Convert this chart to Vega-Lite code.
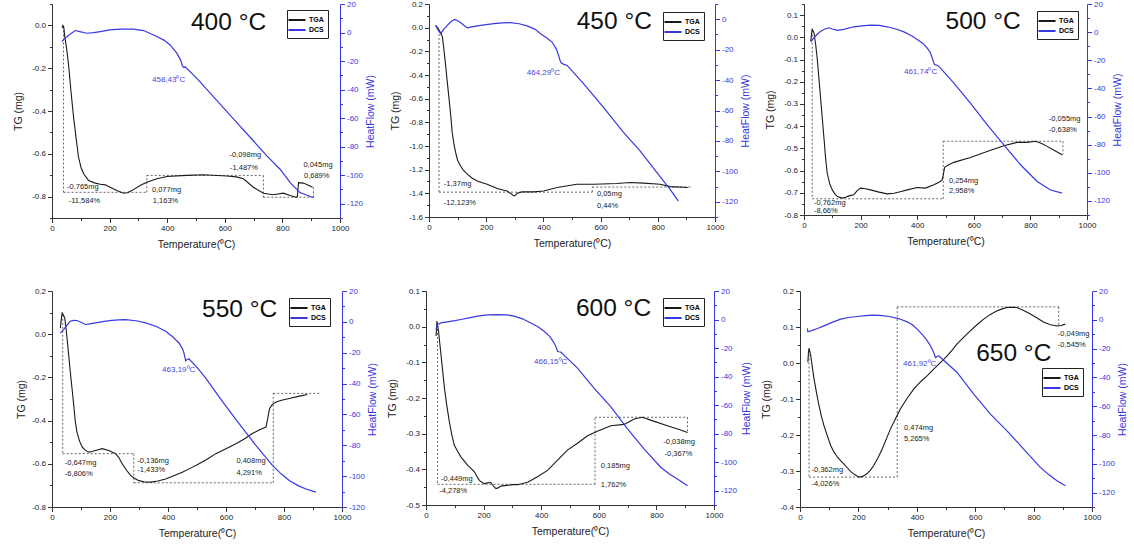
{
"$schema": "https://vega.github.io/schema/vega-lite/v6.json",
"background": "white",
"padding": {"left": 13, "top": 0, "right": 0, "bottom": 0},
"config": {
  "view": {"stroke": null},
  "font": "Liberation Sans",
  "axis": {"labelFont": "Liberation Sans", "titleFont": "Liberation Sans", "labelFontSize": 8, "titleFontSize": 10.5, "titleFontWeight": "normal", "grid": false, "domainColor": "#333", "tickColor": "#333", "labelColor": "#222", "titleColor": "#222", "labelFlush": false, "labelOverlap": false, "labelPadding": 2},
  "legend": {"title": null, "orient": "none", "symbolType": "M-1.8,0H1.8", "symbolSize": 90, "symbolStrokeWidth": 2, "labelFontSize": 7, "labelFontWeight": "bold", "labelFont": "Liberation Sans", "strokeColor": "#222", "fillColor": "#fff", "padding": 4, "rowPadding": 0, "labelOffset": 6},
  "text": {"font": "Liberation Sans"}
},
"datasets": {
"g1": [{"t":35,"v":-0.012},{"t":38,"v":0.0},{"t":41,"v":-0.008},{"t":44,"v":-0.05},{"t":50,"v":-0.1},{"t":58,"v":-0.19},{"t":66,"v":-0.31},{"t":75,"v":-0.43},{"t":84,"v":-0.53},{"t":92,"v":-0.615},{"t":101,"v":-0.665},{"t":110,"v":-0.693},{"t":127,"v":-0.725},{"t":150,"v":-0.737},{"t":168,"v":-0.742},{"t":185,"v":-0.745},{"t":202,"v":-0.756},{"t":225,"v":-0.772},{"t":249,"v":-0.784},{"t":262,"v":-0.782},{"t":277,"v":-0.772},{"t":306,"v":-0.748},{"t":329,"v":-0.733},{"t":364,"v":-0.717},{"t":399,"v":-0.706},{"t":468,"v":-0.701},{"t":526,"v":-0.698},{"t":607,"v":-0.704},{"t":640,"v":-0.708},{"t":665,"v":-0.717},{"t":699,"v":-0.756},{"t":734,"v":-0.784},{"t":769,"v":-0.791},{"t":803,"v":-0.784},{"t":827,"v":-0.795},{"t":847,"v":-0.803},{"t":852,"v":-0.8},{"t":856,"v":-0.735},{"t":873,"v":-0.737},{"t":905,"v":-0.756}],
"d1": [{"t":35,"v":-6.4},{"t":40,"v":-5},{"t":60,"v":-1.5},{"t":81,"v":1.4},{"t":100,"v":0.5},{"t":121,"v":-0.5},{"t":145,"v":0},{"t":168,"v":0.7},{"t":200,"v":1.8},{"t":237,"v":2.4},{"t":283,"v":2.4},{"t":318,"v":1.4},{"t":364,"v":-2.8},{"t":390,"v":-5.5},{"t":410,"v":-8.7},{"t":434,"v":-14.6},{"t":447,"v":-19.5},{"t":453,"v":-23.5},{"t":458,"v":-24.5},{"t":462,"v":-24},{"t":490,"v":-29.5},{"t":514,"v":-34.6},{"t":572,"v":-47.5},{"t":630,"v":-60.5},{"t":688,"v":-73.4},{"t":746,"v":-86.4},{"t":792,"v":-95.8},{"t":827,"v":-105.2},{"t":861,"v":-112.2},{"t":908,"v":-115.8}],
"r1": [{"t":40,"t2":40,"v":-0.005,"v2":-0.78},{"t":40,"t2":329,"v":-0.78,"v2":-0.78},{"t":329,"t2":329,"v":-0.78,"v2":-0.701},{"t":329,"t2":734,"v":-0.701,"v2":-0.701},{"t":734,"t2":734,"v":-0.701,"v2":-0.803},{"t":734,"t2":908,"v":-0.803,"v2":-0.803},{"t":908,"t2":908,"v":-0.803,"v2":-0.757}],
"a1": [{"t":52,"v":-0.756,"s":"-0,765mg"},{"t":58,"v":-0.819,"s":"-11,584%"},{"t":347,"v":-0.769,"s":"0,077mg"},{"t":350,"v":-0.822,"s":"1,163%"},{"t":616,"v":-0.607,"s":"-0,098mg"},{"t":618,"v":-0.665,"s":"-1,487%"},{"t":873,"v":-0.651,"s":"0,045mg"},{"t":875,"v":-0.704,"s":"0,689%"}],
"g2": [{"t":23,"v":0.017},{"t":30,"v":0.0},{"t":35,"v":-0.02},{"t":42,"v":-0.05},{"t":47,"v":-0.08},{"t":52,"v":-0.18},{"t":58,"v":-0.317},{"t":64,"v":-0.46},{"t":70,"v":-0.6},{"t":76,"v":-0.74},{"t":81,"v":-0.884},{"t":87,"v":-0.98},{"t":93,"v":-1.054},{"t":100,"v":-1.12},{"t":110,"v":-1.167},{"t":120,"v":-1.205},{"t":134,"v":-1.238},{"t":150,"v":-1.27},{"t":169,"v":-1.295},{"t":186,"v":-1.31},{"t":203,"v":-1.323},{"t":220,"v":-1.34},{"t":238,"v":-1.36},{"t":255,"v":-1.37},{"t":273,"v":-1.38},{"t":288,"v":-1.405},{"t":297,"v":-1.422},{"t":303,"v":-1.415},{"t":308,"v":-1.4},{"t":326,"v":-1.388},{"t":366,"v":-1.388},{"t":401,"v":-1.38},{"t":448,"v":-1.351},{"t":517,"v":-1.323},{"t":576,"v":-1.323},{"t":657,"v":-1.317},{"t":703,"v":-1.309},{"t":750,"v":-1.314},{"t":808,"v":-1.323},{"t":843,"v":-1.343},{"t":905,"v":-1.351}],
"d2": [{"t":23,"v":-4},{"t":30,"v":-6.5},{"t":41,"v":-9.5},{"t":52,"v":-6.5},{"t":64,"v":-4},{"t":77,"v":-1.5},{"t":90,"v":-0.2},{"t":100,"v":-1},{"t":110,"v":-2.2},{"t":122,"v":-4},{"t":134,"v":-5.7},{"t":150,"v":-5},{"t":169,"v":-4.4},{"t":200,"v":-3.5},{"t":227,"v":-2.9},{"t":256,"v":-2.4},{"t":285,"v":-2.2},{"t":315,"v":-3},{"t":343,"v":-4.4},{"t":370,"v":-6.5},{"t":390,"v":-9.5},{"t":412,"v":-12.3},{"t":430,"v":-15},{"t":445,"v":-19.5},{"t":453,"v":-23.8},{"t":458,"v":-27},{"t":462,"v":-28.6},{"t":470,"v":-29.5},{"t":483,"v":-30.4},{"t":541,"v":-42.5},{"t":610,"v":-57.9},{"t":680,"v":-74.4},{"t":738,"v":-86.6},{"t":797,"v":-100.9},{"t":843,"v":-111.9},{"t":872,"v":-119.6}],
"r2": [{"t":35,"t2":35,"v":-0.02,"v2":-1.39},{"t":35,"t2":571,"v":-1.39,"v2":-1.39},{"t":571,"t2":571,"v":-1.39,"v2":-1.347},{"t":571,"t2":921,"v":-1.347,"v2":-1.347}],
"a2": [{"t":52,"v":-1.323,"s":"-1,37mg"},{"t":52,"v":-1.479,"s":"-12,123%"},{"t":587,"v":-1.408,"s":"0,05mg"},{"t":587,"v":-1.507,"s":"0,44%"}],
"g3": [{"t":24,"v":-0.017},{"t":27,"v":0.02},{"t":29,"v":0.036},{"t":32,"v":0.03},{"t":35,"v":0.021},{"t":41,"v":-0.03},{"t":47,"v":-0.099},{"t":53,"v":-0.19},{"t":59,"v":-0.28},{"t":65,"v":-0.37},{"t":71,"v":-0.46},{"t":76,"v":-0.54},{"t":82,"v":-0.611},{"t":91,"v":-0.66},{"t":100,"v":-0.687},{"t":109,"v":-0.705},{"t":118,"v":-0.717},{"t":135,"v":-0.724},{"t":147,"v":-0.72},{"t":159,"v":-0.714},{"t":176,"v":-0.709},{"t":188,"v":-0.69},{"t":200,"v":-0.679},{"t":217,"v":-0.682},{"t":235,"v":-0.687},{"t":265,"v":-0.697},{"t":294,"v":-0.705},{"t":318,"v":-0.702},{"t":340,"v":-0.695},{"t":365,"v":-0.687},{"t":400,"v":-0.676},{"t":429,"v":-0.679},{"t":459,"v":-0.664},{"t":480,"v":-0.65},{"t":488,"v":-0.642},{"t":492,"v":-0.62},{"t":497,"v":-0.585},{"t":510,"v":-0.575},{"t":529,"v":-0.563},{"t":588,"v":-0.541},{"t":647,"v":-0.514},{"t":706,"v":-0.488},{"t":753,"v":-0.473},{"t":788,"v":-0.473},{"t":818,"v":-0.468},{"t":840,"v":-0.478},{"t":859,"v":-0.491},{"t":885,"v":-0.51},{"t":912,"v":-0.529}],
"d3": [{"t":24,"v":-6.9},{"t":35,"v":-4},{"t":47,"v":-1.5},{"t":59,"v":0.7},{"t":74,"v":2.2},{"t":88,"v":3.1},{"t":100,"v":2.2},{"t":118,"v":1.2},{"t":140,"v":2},{"t":176,"v":3.8},{"t":205,"v":4.5},{"t":235,"v":5},{"t":265,"v":4.8},{"t":294,"v":3.8},{"t":325,"v":2.2},{"t":353,"v":0.2},{"t":380,"v":-2.5},{"t":400,"v":-5.2},{"t":420,"v":-8},{"t":435,"v":-11.2},{"t":446,"v":-14.5},{"t":453,"v":-18.3},{"t":458,"v":-21.5},{"t":461,"v":-23},{"t":468,"v":-23.4},{"t":476,"v":-24.2},{"t":529,"v":-36.1},{"t":588,"v":-50.4},{"t":647,"v":-65.8},{"t":706,"v":-80.1},{"t":765,"v":-94.3},{"t":824,"v":-106.2},{"t":871,"v":-112.2},{"t":912,"v":-114.5}],
"r3": [{"t":29,"t2":29,"v":0.03,"v2":-0.727},{"t":29,"t2":492,"v":-0.727,"v2":-0.727},{"t":492,"t2":492,"v":-0.727,"v2":-0.468},{"t":492,"t2":915,"v":-0.468,"v2":-0.468},{"t":915,"t2":915,"v":-0.468,"v2":-0.529}],
"a3": [{"t":35,"v":-0.744,"s":"-0,762mg"},{"t":35,"v":-0.78,"s":"-8,66%"},{"t":512,"v":-0.649,"s":"0,254mg"},{"t":512,"v":-0.694,"s":"2,958%"},{"t":865,"v":-0.367,"s":"-0,055mg"},{"t":865,"v":-0.419,"s":"-0,638%"}],
"g4": [{"t":29,"v":0.028},{"t":32,"v":0.07},{"t":35,"v":0.098},{"t":39,"v":0.09},{"t":44,"v":0.074},{"t":48,"v":0.03},{"t":52,"v":-0.019},{"t":57,"v":-0.09},{"t":63,"v":-0.174},{"t":69,"v":-0.25},{"t":75,"v":-0.329},{"t":80,"v":-0.4},{"t":86,"v":-0.453},{"t":95,"v":-0.495},{"t":104,"v":-0.522},{"t":115,"v":-0.538},{"t":127,"v":-0.546},{"t":138,"v":-0.543},{"t":150,"v":-0.538},{"t":173,"v":-0.53},{"t":196,"v":-0.538},{"t":219,"v":-0.553},{"t":230,"v":-0.57},{"t":242,"v":-0.6},{"t":257,"v":-0.63},{"t":271,"v":-0.654},{"t":285,"v":-0.668},{"t":300,"v":-0.678},{"t":320,"v":-0.684},{"t":340,"v":-0.685},{"t":365,"v":-0.68},{"t":392,"v":-0.67},{"t":420,"v":-0.655},{"t":449,"v":-0.639},{"t":478,"v":-0.62},{"t":507,"v":-0.6},{"t":536,"v":-0.578},{"t":565,"v":-0.553},{"t":600,"v":-0.53},{"t":634,"v":-0.507},{"t":663,"v":-0.485},{"t":691,"v":-0.46},{"t":720,"v":-0.44},{"t":738,"v":-0.43},{"t":744,"v":-0.39},{"t":750,"v":-0.345},{"t":760,"v":-0.325},{"t":775,"v":-0.313},{"t":795,"v":-0.305},{"t":818,"v":-0.298},{"t":850,"v":-0.288},{"t":881,"v":-0.279}],
"d4": [{"t":29,"v":-7.2},{"t":35,"v":-6},{"t":40,"v":-5},{"t":50,"v":-2.5},{"t":63,"v":0.4},{"t":75,"v":1},{"t":86,"v":0.9},{"t":100,"v":-0.3},{"t":115,"v":-1.7},{"t":130,"v":-1.3},{"t":150,"v":-0.7},{"t":180,"v":0.3},{"t":207,"v":0.9},{"t":230,"v":1.3},{"t":253,"v":1.5},{"t":290,"v":0.7},{"t":323,"v":-0.7},{"t":360,"v":-3},{"t":392,"v":-6.1},{"t":415,"v":-9.5},{"t":438,"v":-13.7},{"t":450,"v":-17.5},{"t":455,"v":-20.2},{"t":459,"v":-23.5},{"t":461,"v":-25.2},{"t":465,"v":-24.5},{"t":472,"v":-23.9},{"t":500,"v":-29.5},{"t":530,"v":-36.5},{"t":588,"v":-51.7},{"t":645,"v":-65.9},{"t":703,"v":-80},{"t":760,"v":-93},{"t":790,"v":-98.5},{"t":818,"v":-102.8},{"t":850,"v":-106.3},{"t":876,"v":-108.3},{"t":910,"v":-110.4}],
"r4": [{"t":37,"t2":37,"v":0.09,"v2":-0.553},{"t":37,"t2":282,"v":-0.553,"v2":-0.553},{"t":282,"t2":282,"v":-0.553,"v2":-0.688},{"t":282,"t2":763,"v":-0.688,"v2":-0.688},{"t":763,"t2":763,"v":-0.688,"v2":-0.274},{"t":763,"t2":927,"v":-0.274,"v2":-0.274}],
"a4": [{"t":44,"v":-0.595,"s":"-0,647mg"},{"t":44,"v":-0.647,"s":"-6,806%"},{"t":294,"v":-0.589,"s":"-0,136mg"},{"t":294,"v":-0.631,"s":"-1,433%"},{"t":636,"v":-0.589,"s":"0,408mg"},{"t":636,"v":-0.642,"s":"4,291%"}],
"g5": [{"t":35,"v":-0.026},{"t":37,"v":0.0},{"t":38,"v":0.016},{"t":40,"v":0.005},{"t":43,"v":-0.008},{"t":47,"v":-0.04},{"t":52,"v":-0.078},{"t":58,"v":-0.125},{"t":64,"v":-0.172},{"t":72,"v":-0.22},{"t":81,"v":-0.266},{"t":90,"v":-0.305},{"t":98,"v":-0.332},{"t":110,"v":-0.35},{"t":121,"v":-0.365},{"t":133,"v":-0.377},{"t":145,"v":-0.389},{"t":157,"v":-0.398},{"t":168,"v":-0.407},{"t":177,"v":-0.42},{"t":185,"v":-0.431},{"t":202,"v":-0.44},{"t":214,"v":-0.438},{"t":225,"v":-0.437},{"t":235,"v":-0.448},{"t":243,"v":-0.454},{"t":250,"v":-0.452},{"t":260,"v":-0.447},{"t":280,"v":-0.445},{"t":301,"v":-0.443},{"t":318,"v":-0.443},{"t":353,"v":-0.436},{"t":387,"v":-0.421},{"t":422,"v":-0.403},{"t":457,"v":-0.374},{"t":491,"v":-0.346},{"t":526,"v":-0.327},{"t":561,"v":-0.306},{"t":595,"v":-0.293},{"t":642,"v":-0.278},{"t":688,"v":-0.274},{"t":723,"v":-0.259},{"t":751,"v":-0.254},{"t":780,"v":-0.262},{"t":838,"v":-0.278},{"t":884,"v":-0.29},{"t":908,"v":-0.297}],
"d5": [{"t":35,"v":-7.1},{"t":37,"v":-5},{"t":40,"v":-3.5},{"t":55,"v":-2.2},{"t":75,"v":-1.6},{"t":100,"v":-0.8},{"t":121,"v":0},{"t":150,"v":1.2},{"t":179,"v":2.4},{"t":215,"v":3.2},{"t":249,"v":3.5},{"t":280,"v":3.2},{"t":306,"v":2.4},{"t":335,"v":0.5},{"t":364,"v":-2.4},{"t":390,"v":-5.2},{"t":410,"v":-8.2},{"t":430,"v":-12},{"t":445,"v":-16.5},{"t":452,"v":-19.5},{"t":457,"v":-22.4},{"t":462,"v":-22.6},{"t":468,"v":-22.8},{"t":526,"v":-34.1},{"t":584,"v":-48.2},{"t":642,"v":-61.2},{"t":699,"v":-76.5},{"t":757,"v":-90.6},{"t":815,"v":-103.5},{"t":845,"v":-108.3},{"t":873,"v":-111.8},{"t":908,"v":-116.5}],
"r5": [{"t":40,"t2":40,"v":0.005,"v2":-0.442},{"t":40,"t2":587,"v":-0.442,"v2":-0.442},{"t":587,"t2":587,"v":-0.442,"v2":-0.254},{"t":587,"t2":908,"v":-0.254,"v2":-0.254},{"t":908,"t2":908,"v":-0.254,"v2":-0.297}],
"a5": [{"t":52,"v":-0.428,"s":"-0,449mg"},{"t":46,"v":-0.462,"s":"-4,278%"},{"t":607,"v":-0.39,"s":"0,185mg"},{"t":607,"v":-0.444,"s":"1,762%"},{"t":824,"v":-0.323,"s":"-0,038mg"},{"t":828,"v":-0.356,"s":"-0,367%"}],
"g6": [{"t":27,"v":0.002},{"t":29,"v":0.03},{"t":31,"v":0.041},{"t":33,"v":0.035},{"t":36,"v":0.025},{"t":42,"v":-0.01},{"t":48,"v":-0.044},{"t":56,"v":-0.08},{"t":65,"v":-0.118},{"t":73,"v":-0.147},{"t":82,"v":-0.174},{"t":94,"v":-0.203},{"t":105,"v":-0.229},{"t":116,"v":-0.247},{"t":128,"v":-0.261},{"t":139,"v":-0.271},{"t":150,"v":-0.28},{"t":162,"v":-0.291},{"t":173,"v":-0.301},{"t":187,"v":-0.31},{"t":202,"v":-0.317},{"t":215,"v":-0.315},{"t":230,"v":-0.307},{"t":242,"v":-0.297},{"t":253,"v":-0.284},{"t":268,"v":-0.262},{"t":282,"v":-0.238},{"t":296,"v":-0.21},{"t":310,"v":-0.183},{"t":327,"v":-0.155},{"t":344,"v":-0.127},{"t":367,"v":-0.098},{"t":390,"v":-0.072},{"t":413,"v":-0.052},{"t":436,"v":-0.035},{"t":453,"v":-0.021},{"t":470,"v":-0.007},{"t":487,"v":0.006},{"t":504,"v":0.02},{"t":521,"v":0.036},{"t":538,"v":0.053},{"t":561,"v":0.072},{"t":584,"v":0.09},{"t":607,"v":0.107},{"t":629,"v":0.122},{"t":652,"v":0.135},{"t":675,"v":0.145},{"t":695,"v":0.151},{"t":709,"v":0.154},{"t":726,"v":0.155},{"t":743,"v":0.154},{"t":766,"v":0.146},{"t":789,"v":0.136},{"t":812,"v":0.125},{"t":835,"v":0.113},{"t":858,"v":0.106},{"t":880,"v":0.103},{"t":895,"v":0.104},{"t":909,"v":0.108}],
"d6": [{"t":25,"v":-6},{"t":27,"v":-8.3},{"t":40,"v":-7.5},{"t":60,"v":-6},{"t":82,"v":-4.2},{"t":110,"v":-1.8},{"t":139,"v":0.5},{"t":167,"v":1.6},{"t":196,"v":2.3},{"t":225,"v":2.9},{"t":253,"v":3.2},{"t":282,"v":2.9},{"t":310,"v":2.1},{"t":340,"v":0.7},{"t":367,"v":-1.4},{"t":385,"v":-3.5},{"t":401,"v":-6.5},{"t":420,"v":-10.5},{"t":436,"v":-14.6},{"t":448,"v":-18.5},{"t":458,"v":-22.7},{"t":464,"v":-26.2},{"t":470,"v":-25.5},{"t":475,"v":-25},{"t":538,"v":-36.6},{"t":595,"v":-51.6},{"t":652,"v":-65.5},{"t":709,"v":-77.1},{"t":766,"v":-89.8},{"t":823,"v":-102.5},{"t":852,"v":-107.5},{"t":880,"v":-111.8},{"t":909,"v":-115.3}],
"r6": [{"t":31,"t2":31,"v":0.035,"v2":-0.317},{"t":31,"t2":333,"v":-0.317,"v2":-0.317},{"t":333,"t2":333,"v":-0.317,"v2":0.156},{"t":333,"t2":886,"v":0.156,"v2":0.156},{"t":886,"t2":886,"v":0.156,"v2":0.103}],
"a6": [{"t":39,"v":-0.298,"s":"-0,362mg"},{"t":39,"v":-0.335,"s":"-4,026%"},{"t":356,"v":-0.18,"s":"0,474mg"},{"t":356,"v":-0.211,"s":"5,265%"},{"t":883,"v":0.08,"s":"-0,049mg"},{"t":883,"v":0.05,"s":"-0,545%"}]
},
"spacing": 37,
"align": "none",
"resolve": {"scale": {"color": "independent"}, "legend": {"color": "independent"}},
"vconcat": [
{"spacing": 13, "resolve": {"scale": {"color": "independent"}, "legend": {"color": "independent"}},
 "hconcat": [
 {"width": 288, "height": 214,
  "encoding": {"x": {"field": "t", "type": "quantitative", "scale": {"domain": [0, 1000], "nice": false, "zero": false}, "axis": {"title": "Temperature(⁰C)", "titlePadding": 7, "values": [0,100,200,300,400,500,600,700,800,900,1000], "labelExpr": "datum.value % 200 == 0 ? format(datum.value, 'd') : ''", "tickSize": {"condition": {"test": "datum.value % 200 != 0", "value": 2.5}, "value": 4.5}}}},
  "resolve": {"scale": {"y": "independent"}},
  "layer": [
   {"encoding": {"y": {"field": "v", "type": "quantitative", "scale": {"domain": [-0.9, 0.1], "nice": false, "zero": false}, "axis": {"title": "TG (mg)", "titlePadding": 8, "values": [-0.9,-0.8,-0.7,-0.6,-0.5,-0.4,-0.3,-0.2,-0.1,0,0.1], "labelExpr": "abs(round(datum.value*10)) % 2 == 1 ? '' : replace(format(datum.value, '.1f'), '\u2212', '-')", "tickSize": {"condition": {"test": "abs(round(datum.value*10)) % 2 == 1", "value": 2.5}, "value": 4.5}}}},
    "layer": [
     {"data": {"name": "r1"}, "mark": {"type": "rule", "strokeDash": [2, 2], "color": "#555", "strokeWidth": 0.9}, "encoding": {"x2": {"field": "t2"}, "y2": {"field": "v2"}}},
     {"data": {"name": "g1"}, "mark": {"type": "line", "strokeWidth": 1.1}, "encoding": {"color": {"datum": "TGA", "scale": {"domain": ["TGA", "DCS"], "range": ["#1a1a1a", "#3838e0"]}, "legend": {"legendX": 235, "legendY": 6}}}},
     {"data": {"name": "a1"}, "mark": {"type": "text", "align": "left", "baseline": "middle", "fontSize": 7.5, "color": "#222"}, "encoding": {"text": {"field": "s"}}},
     {"data": {"values": [{"t": 613, "v": 0.013, "s": "400 °C"}]}, "mark": {"type": "text", "align": "center", "baseline": "middle", "fontSize": 24.5, "color": "#111"}, "encoding": {"text": {"field": "s"}}}
    ]},
   {"encoding": {"y": {"field": "v", "type": "quantitative", "scale": {"domain": [-130, 20], "nice": false, "zero": false}, "axis": {"orient": "right", "title": "HeatFlow (mW)", "titleAngle": 270, "titleBaseline": "top", "titlePadding": 3, "values": [-130,-120,-110,-100,-90,-80,-70,-60,-50,-40,-30,-20,-10,0,10,20], "labelExpr": "datum.value % 20 != 0 ? '' : replace(datum.label, '\u2212', '-')", "tickSize": {"condition": {"test": "datum.value % 20 != 0", "value": 2.5}, "value": 4.5}, "domainColor": "#3838e0", "tickColor": "#3838e0", "labelColor": "#3838e0", "titleColor": "#3838e0"}}},
    "layer": [
     {"data": {"name": "d1"}, "mark": {"type": "line", "strokeWidth": 1.2}, "encoding": {"color": {"datum": "DCS"}}},
     {"data": {"values": [{"t": 405, "v": -33.4, "s": "458,43⁰C"}]}, "mark": {"type": "text", "align": "center", "baseline": "middle", "fontSize": 8, "color": "#4646dc"}, "encoding": {"text": {"field": "s"}}}
    ]}
  ]},
 {"width": 286, "height": 213,
  "encoding": {"x": {"field": "t", "type": "quantitative", "scale": {"domain": [0, 1000], "nice": false, "zero": false}, "axis": {"title": "Temperature(⁰C)", "titlePadding": 7, "values": [0,100,200,300,400,500,600,700,800,900,1000], "labelExpr": "datum.value % 200 == 0 ? format(datum.value, 'd') : ''", "tickSize": {"condition": {"test": "datum.value % 200 != 0", "value": 2.5}, "value": 4.5}}}},
  "resolve": {"scale": {"y": "independent"}},
  "layer": [
   {"encoding": {"y": {"field": "v", "type": "quantitative", "scale": {"domain": [-1.6, 0.2], "nice": false, "zero": false}, "axis": {"title": "TG (mg)", "titlePadding": 8, "values": [-1.6,-1.5,-1.4,-1.3,-1.2,-1.1,-1.0,-0.9,-0.8,-0.7,-0.6,-0.5,-0.4,-0.3,-0.2,-0.1,0,0.1,0.2], "labelExpr": "abs(round(datum.value*10)) % 2 == 1 ? '' : replace(format(datum.value, '.1f'), '\u2212', '-')", "tickSize": {"condition": {"test": "abs(round(datum.value*10)) % 2 == 1", "value": 2.5}, "value": 4.5}}}},
    "layer": [
     {"data": {"name": "r2"}, "mark": {"type": "rule", "strokeDash": [2, 2], "color": "#555", "strokeWidth": 0.9}, "encoding": {"x2": {"field": "t2"}, "y2": {"field": "v2"}}},
     {"data": {"name": "g2"}, "mark": {"type": "line", "strokeWidth": 1.1}, "encoding": {"color": {"datum": "TGA", "scale": {"domain": ["TGA", "DCS"], "range": ["#1a1a1a", "#3838e0"]}, "legend": {"legendX": 234, "legendY": 8}}}},
     {"data": {"name": "a2"}, "mark": {"type": "text", "align": "left", "baseline": "middle", "fontSize": 7.5, "color": "#222"}, "encoding": {"text": {"field": "s"}}},
     {"data": {"values": [{"t": 648, "v": 0.045, "s": "450 °C"}]}, "mark": {"type": "text", "align": "center", "baseline": "middle", "fontSize": 24.5, "color": "#111"}, "encoding": {"text": {"field": "s"}}}
    ]},
   {"encoding": {"y": {"field": "v", "type": "quantitative", "scale": {"domain": [-130, 10], "nice": false, "zero": false}, "axis": {"orient": "right", "title": "HeatFlow (mW)", "titleAngle": 270, "titleBaseline": "top", "titlePadding": 3, "values": [-130,-120,-110,-100,-90,-80,-70,-60,-50,-40,-30,-20,-10,0,10], "labelExpr": "datum.value % 20 != 0 ? '' : replace(datum.label, '\u2212', '-')", "tickSize": {"condition": {"test": "datum.value % 20 != 0", "value": 2.5}, "value": 4.5}, "domainColor": "#3838e0", "tickColor": "#3838e0", "labelColor": "#3838e0", "titleColor": "#3838e0"}}},
    "layer": [
     {"data": {"name": "d2"}, "mark": {"type": "line", "strokeWidth": 1.2}, "encoding": {"color": {"datum": "DCS"}}},
     {"data": {"values": [{"t": 400, "v": -35.2, "s": "464,29⁰C"}]}, "mark": {"type": "text", "align": "center", "baseline": "middle", "fontSize": 8, "color": "#4646dc"}, "encoding": {"text": {"field": "s"}}}
    ]}
  ]},
 {"width": 283, "height": 211,
  "encoding": {"x": {"field": "t", "type": "quantitative", "scale": {"domain": [0, 1000], "nice": false, "zero": false}, "axis": {"title": "Temperature(⁰C)", "titlePadding": 7, "values": [0,100,200,300,400,500,600,700,800,900,1000], "labelExpr": "datum.value % 200 == 0 ? format(datum.value, 'd') : ''", "tickSize": {"condition": {"test": "datum.value % 200 != 0", "value": 2.5}, "value": 4.5}}}},
  "resolve": {"scale": {"y": "independent"}},
  "layer": [
   {"encoding": {"y": {"field": "v", "type": "quantitative", "scale": {"domain": [-0.8, 0.15], "nice": false, "zero": false}, "axis": {"title": "TG (mg)", "titlePadding": 8, "values": [-0.8,-0.75,-0.7,-0.65,-0.6,-0.55,-0.5,-0.45,-0.4,-0.35,-0.3,-0.25,-0.2,-0.15,-0.1,-0.05,0,0.05,0.1,0.15], "labelExpr": "abs(round(datum.value*20)) % 2 == 1 ? '' : replace(format(datum.value, '.1f'), '\u2212', '-')", "tickSize": {"condition": {"test": "abs(round(datum.value*20)) % 2 == 1", "value": 2.5}, "value": 4.5}}}},
    "layer": [
     {"data": {"name": "r3"}, "mark": {"type": "rule", "strokeDash": [2, 2], "color": "#555", "strokeWidth": 0.9}, "encoding": {"x2": {"field": "t2"}, "y2": {"field": "v2"}}},
     {"data": {"name": "g3"}, "mark": {"type": "line", "strokeWidth": 1.1}, "encoding": {"color": {"datum": "TGA", "scale": {"domain": ["TGA", "DCS"], "range": ["#1a1a1a", "#3838e0"]}, "legend": {"legendX": 233, "legendY": 7}}}},
     {"data": {"name": "a3"}, "mark": {"type": "text", "align": "left", "baseline": "middle", "fontSize": 7.5, "color": "#222"}, "encoding": {"text": {"field": "s"}}},
     {"data": {"values": [{"t": 633, "v": 0.069, "s": "500 °C"}]}, "mark": {"type": "text", "align": "center", "baseline": "middle", "fontSize": 24.5, "color": "#111"}, "encoding": {"text": {"field": "s"}}}
    ]},
   {"encoding": {"y": {"field": "v", "type": "quantitative", "scale": {"domain": [-130, 20], "nice": false, "zero": false}, "axis": {"orient": "right", "title": "HeatFlow (mW)", "titleAngle": 270, "titleBaseline": "top", "titlePadding": 3, "values": [-130,-120,-110,-100,-90,-80,-70,-60,-50,-40,-30,-20,-10,0,10,20], "labelExpr": "datum.value % 20 != 0 ? '' : replace(datum.label, '\u2212', '-')", "tickSize": {"condition": {"test": "datum.value % 20 != 0", "value": 2.5}, "value": 4.5}, "domainColor": "#3838e0", "tickColor": "#3838e0", "labelColor": "#3838e0", "titleColor": "#3838e0"}}},
    "layer": [
     {"data": {"name": "d3"}, "mark": {"type": "line", "strokeWidth": 1.2}, "encoding": {"color": {"datum": "DCS"}}},
     {"data": {"values": [{"t": 412, "v": -28.5, "s": "461,74⁰C"}]}, "mark": {"type": "text", "align": "center", "baseline": "middle", "fontSize": 8, "color": "#4646dc"}, "encoding": {"text": {"field": "s"}}}
    ]}
  ]}
 ]},
{"spacing": 8, "resolve": {"scale": {"color": "independent"}, "legend": {"color": "independent"}},
 "hconcat": [
 {"width": 290, "height": 216,
  "encoding": {"x": {"field": "t", "type": "quantitative", "scale": {"domain": [0, 1000], "nice": false, "zero": false}, "axis": {"title": "Temperature(⁰C)", "titlePadding": 7, "values": [0,100,200,300,400,500,600,700,800,900,1000], "labelExpr": "datum.value % 200 == 0 ? format(datum.value, 'd') : ''", "tickSize": {"condition": {"test": "datum.value % 200 != 0", "value": 2.5}, "value": 4.5}}}},
  "resolve": {"scale": {"y": "independent"}},
  "layer": [
   {"encoding": {"y": {"field": "v", "type": "quantitative", "scale": {"domain": [-0.8, 0.2], "nice": false, "zero": false}, "axis": {"title": "TG (mg)", "titlePadding": 5, "values": [-0.8,-0.7,-0.6,-0.5,-0.4,-0.3,-0.2,-0.1,0,0.1,0.2], "labelExpr": "abs(round(datum.value*10)) % 2 == 1 ? '' : replace(format(datum.value, '.1f'), '\u2212', '-')", "tickSize": {"condition": {"test": "abs(round(datum.value*10)) % 2 == 1", "value": 2.5}, "value": 4.5}}}},
    "layer": [
     {"data": {"name": "r4"}, "mark": {"type": "rule", "strokeDash": [2, 2], "color": "#555", "strokeWidth": 0.9}, "encoding": {"x2": {"field": "t2"}, "y2": {"field": "v2"}}},
     {"data": {"name": "g4"}, "mark": {"type": "line", "strokeWidth": 1.1}, "encoding": {"color": {"datum": "TGA", "scale": {"domain": ["TGA", "DCS"], "range": ["#1a1a1a", "#3838e0"]}, "legend": {"legendX": 237, "legendY": 7}}}},
     {"data": {"name": "a4"}, "mark": {"type": "text", "align": "left", "baseline": "middle", "fontSize": 7.5, "color": "#222"}, "encoding": {"text": {"field": "s"}}},
     {"data": {"values": [{"t": 647, "v": 0.11, "s": "550 °C"}]}, "mark": {"type": "text", "align": "center", "baseline": "middle", "fontSize": 24.5, "color": "#111"}, "encoding": {"text": {"field": "s"}}}
    ]},
   {"encoding": {"y": {"field": "v", "type": "quantitative", "scale": {"domain": [-120, 20], "nice": false, "zero": false}, "axis": {"orient": "right", "title": "HeatFlow (mW)", "titleAngle": 270, "titleBaseline": "top", "titlePadding": 3, "values": [-120,-110,-100,-90,-80,-70,-60,-50,-40,-30,-20,-10,0,10,20], "labelExpr": "datum.value % 20 != 0 ? '' : replace(datum.label, '\u2212', '-')", "tickSize": {"condition": {"test": "datum.value % 20 != 0", "value": 2.5}, "value": 4.5}, "domainColor": "#3838e0", "tickColor": "#3838e0", "labelColor": "#3838e0", "titleColor": "#3838e0"}}},
    "layer": [
     {"data": {"name": "d4"}, "mark": {"type": "line", "strokeWidth": 1.2}, "encoding": {"color": {"datum": "DCS"}}},
     {"data": {"values": [{"t": 437, "v": -31.5, "s": "463,19⁰C"}]}, "mark": {"type": "text", "align": "center", "baseline": "middle", "fontSize": 8, "color": "#4646dc"}, "encoding": {"text": {"field": "s"}}}
    ]}
  ]},
 {"width": 288, "height": 214,
  "encoding": {"x": {"field": "t", "type": "quantitative", "scale": {"domain": [0, 1000], "nice": false, "zero": false}, "axis": {"title": "Temperature(⁰C)", "titlePadding": 7, "values": [0,100,200,300,400,500,600,700,800,900,1000], "labelExpr": "datum.value % 200 == 0 ? format(datum.value, 'd') : ''", "tickSize": {"condition": {"test": "datum.value % 200 != 0", "value": 2.5}, "value": 4.5}}}},
  "resolve": {"scale": {"y": "independent"}},
  "layer": [
   {"encoding": {"y": {"field": "v", "type": "quantitative", "scale": {"domain": [-0.5, 0.1], "nice": false, "zero": false}, "axis": {"title": "TG (mg)", "titlePadding": 8, "values": [-0.5,-0.45,-0.4,-0.35,-0.3,-0.25,-0.2,-0.15,-0.1,-0.05,0,0.05,0.1], "labelExpr": "abs(round(datum.value*20)) % 2 == 1 ? '' : replace(format(datum.value, '.1f'), '\u2212', '-')", "tickSize": {"condition": {"test": "abs(round(datum.value*20)) % 2 == 1", "value": 2.5}, "value": 4.5}}}},
    "layer": [
     {"data": {"name": "r5"}, "mark": {"type": "rule", "strokeDash": [2, 2], "color": "#555", "strokeWidth": 0.9}, "encoding": {"x2": {"field": "t2"}, "y2": {"field": "v2"}}},
     {"data": {"name": "g5"}, "mark": {"type": "line", "strokeWidth": 1.1}, "encoding": {"color": {"datum": "TGA", "scale": {"domain": ["TGA", "DCS"], "range": ["#1a1a1a", "#3838e0"]}, "legend": {"legendX": 237, "legendY": 7}}}},
     {"data": {"name": "a5"}, "mark": {"type": "text", "align": "left", "baseline": "middle", "fontSize": 7.5, "color": "#222"}, "encoding": {"text": {"field": "s"}}},
     {"data": {"values": [{"t": 651, "v": 0.049, "s": "600 °C"}]}, "mark": {"type": "text", "align": "center", "baseline": "middle", "fontSize": 24.5, "color": "#111"}, "encoding": {"text": {"field": "s"}}}
    ]},
   {"encoding": {"y": {"field": "v", "type": "quantitative", "scale": {"domain": [-130, 20], "nice": false, "zero": false}, "axis": {"orient": "right", "title": "HeatFlow (mW)", "titleAngle": 270, "titleBaseline": "top", "titlePadding": 5, "values": [-130,-120,-110,-100,-90,-80,-70,-60,-50,-40,-30,-20,-10,0,10,20], "labelExpr": "datum.value % 20 != 0 ? '' : replace(datum.label, '\u2212', '-')", "tickSize": {"condition": {"test": "datum.value % 20 != 0", "value": 2.5}, "value": 4.5}, "domainColor": "#3838e0", "tickColor": "#3838e0", "labelColor": "#3838e0", "titleColor": "#3838e0"}}},
    "layer": [
     {"data": {"name": "d5"}, "mark": {"type": "line", "strokeWidth": 1.2}, "encoding": {"color": {"datum": "DCS"}}},
     {"data": {"values": [{"t": 433, "v": -29.9, "s": "466,15⁰C"}]}, "mark": {"type": "text", "align": "center", "baseline": "middle", "fontSize": 8, "color": "#4646dc"}, "encoding": {"text": {"field": "s"}}}
    ]}
  ]},
 {"width": 292, "height": 216,
  "encoding": {"x": {"field": "t", "type": "quantitative", "scale": {"domain": [0, 1000], "nice": false, "zero": false}, "axis": {"title": "Temperature(⁰C)", "titlePadding": 7, "values": [0,100,200,300,400,500,600,700,800,900,1000], "labelExpr": "datum.value % 200 == 0 ? format(datum.value, 'd') : ''", "tickSize": {"condition": {"test": "datum.value % 200 != 0", "value": 2.5}, "value": 4.5}}}},
  "resolve": {"scale": {"y": "independent"}},
  "layer": [
   {"encoding": {"y": {"field": "v", "type": "quantitative", "scale": {"domain": [-0.4, 0.2], "nice": false, "zero": false}, "axis": {"title": "TG (mg)", "titlePadding": 8, "values": [-0.4,-0.35,-0.3,-0.25,-0.2,-0.15,-0.1,-0.05,0,0.05,0.1,0.15,0.2], "labelExpr": "abs(round(datum.value*20)) % 2 == 1 ? '' : replace(format(datum.value, '.1f'), '\u2212', '-')", "tickSize": {"condition": {"test": "abs(round(datum.value*20)) % 2 == 1", "value": 2.5}, "value": 4.5}}}},
    "layer": [
     {"data": {"name": "r6"}, "mark": {"type": "rule", "strokeDash": [2, 2], "color": "#555", "strokeWidth": 0.9}, "encoding": {"x2": {"field": "t2"}, "y2": {"field": "v2"}}},
     {"data": {"name": "g6"}, "mark": {"type": "line", "strokeWidth": 1.1}, "encoding": {"color": {"datum": "TGA", "scale": {"domain": ["TGA", "DCS"], "range": ["#1a1a1a", "#3838e0"]}, "legend": {"legendX": 242, "legendY": 77}}}},
     {"data": {"name": "a6"}, "mark": {"type": "text", "align": "left", "baseline": "middle", "fontSize": 7.5, "color": "#222"}, "encoding": {"text": {"field": "s"}}},
     {"data": {"values": [{"t": 732, "v": 0.025, "s": "650 °C"}]}, "mark": {"type": "text", "align": "center", "baseline": "middle", "fontSize": 24.5, "color": "#111"}, "encoding": {"text": {"field": "s"}}}
    ]},
   {"encoding": {"y": {"field": "v", "type": "quantitative", "scale": {"domain": [-130, 20], "nice": false, "zero": false}, "axis": {"orient": "right", "title": "HeatFlow (mW)", "titleAngle": 270, "titleBaseline": "top", "titlePadding": 3, "values": [-130,-120,-110,-100,-90,-80,-70,-60,-50,-40,-30,-20,-10,0,10,20], "labelExpr": "datum.value % 20 != 0 ? '' : replace(datum.label, '\u2212', '-')", "tickSize": {"condition": {"test": "datum.value % 20 != 0", "value": 2.5}, "value": 4.5}, "domainColor": "#3838e0", "tickColor": "#3838e0", "labelColor": "#3838e0", "titleColor": "#3838e0"}}},
    "layer": [
     {"data": {"name": "d6"}, "mark": {"type": "line", "strokeWidth": 1.2}, "encoding": {"color": {"datum": "DCS"}}},
     {"data": {"values": [{"t": 410, "v": -30.8, "s": "461,92⁰C"}]}, "mark": {"type": "text", "align": "center", "baseline": "middle", "fontSize": 8, "color": "#4646dc"}, "encoding": {"text": {"field": "s"}}}
    ]}
  ]}
 ]}
]
}
